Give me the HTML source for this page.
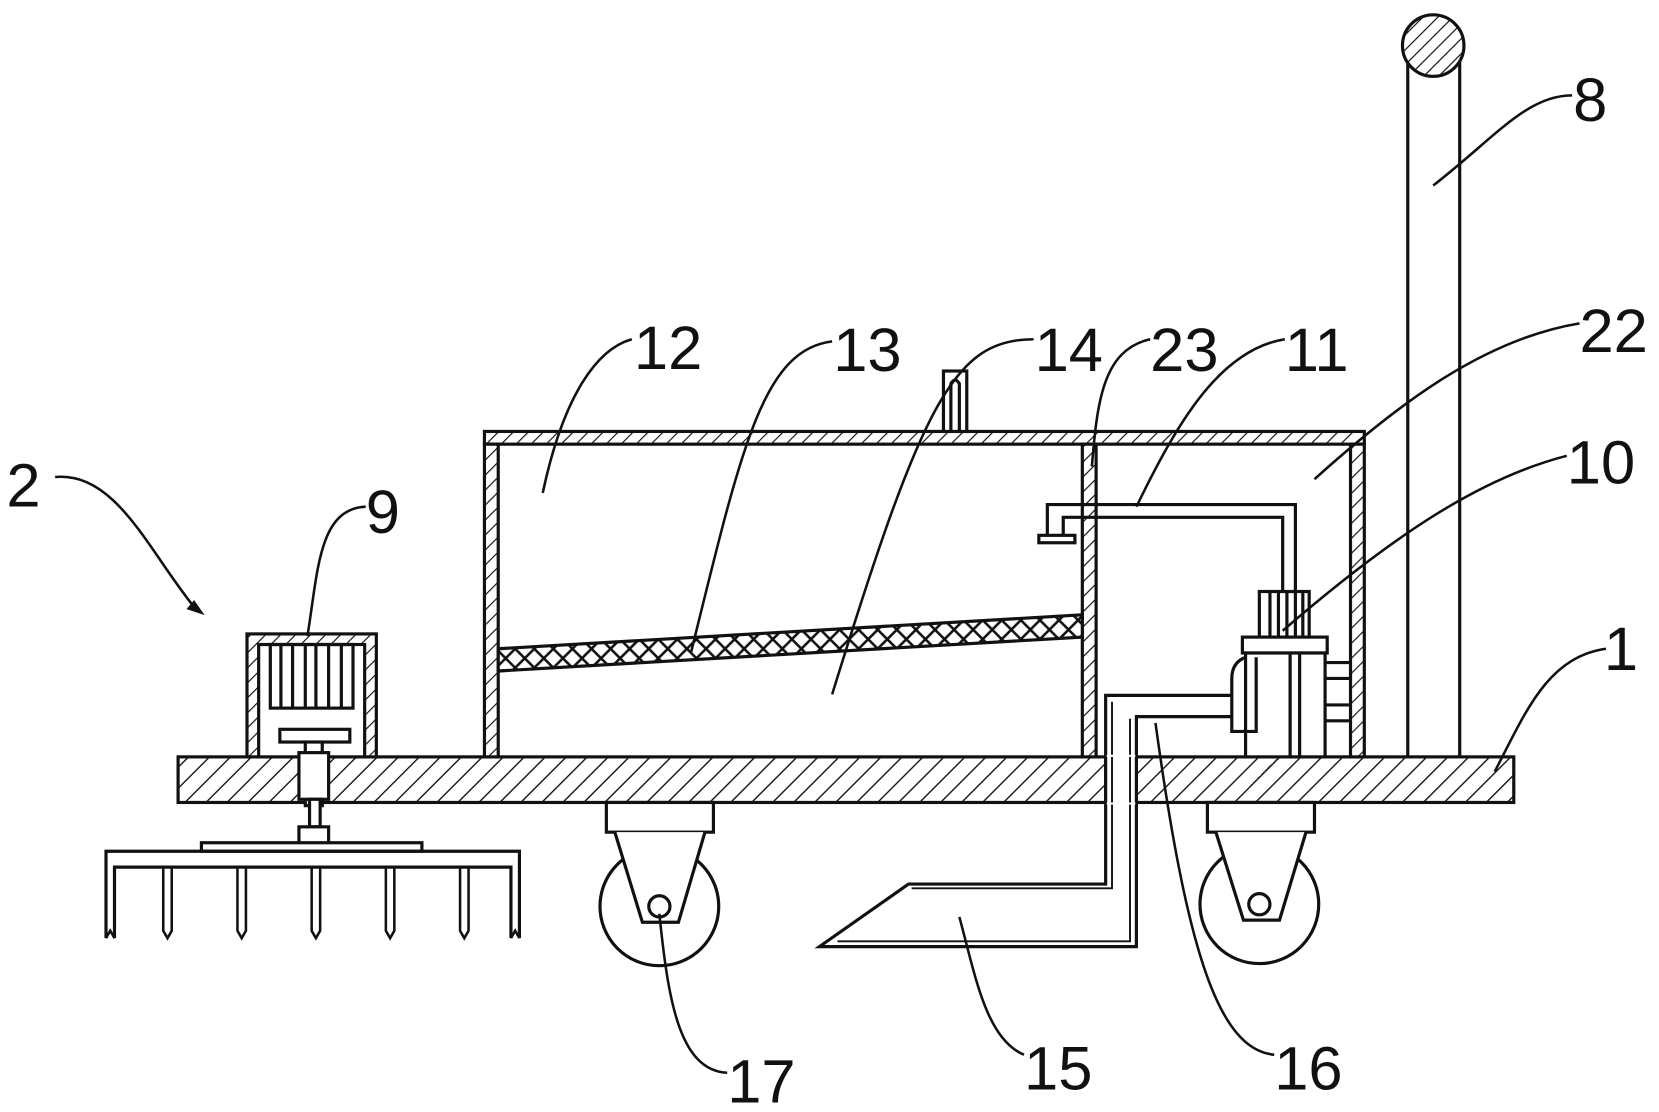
<!DOCTYPE html>
<html><head><meta charset="utf-8"><style>html,body{margin:0;padding:0;background:#fff}svg{display:block}</style></head>
<body>
<svg width="1659" height="1112" viewBox="0 0 1565 1049" preserveAspectRatio="none" xmlns="http://www.w3.org/2000/svg">
<defs>
<pattern id="h" patternUnits="userSpaceOnUse" width="14" height="14" patternTransform="rotate(45)">
<rect width="14" height="14" fill="#fff"/><line x1="0" y1="0" x2="0" y2="14" stroke="#111" stroke-width="2.6"/></pattern>
<pattern id="hs" patternUnits="userSpaceOnUse" width="10" height="10" patternTransform="rotate(45)">
<rect width="10" height="10" fill="#fff"/><line x1="0" y1="0" x2="0" y2="10" stroke="#111" stroke-width="2.2"/></pattern>
<pattern id="x" patternUnits="userSpaceOnUse" width="18" height="18">
<rect width="18" height="18" fill="#fff"/><path d="M0 0L18 18M18 0L0 18" stroke="#111" stroke-width="2.4"/></pattern>
</defs>
<g stroke="#111" stroke-width="3" fill="none">
<rect x="168" y="714" width="1260" height="43" fill="url(#h)"/>
<rect x="457" y="407" width="830" height="12" fill="url(#hs)"/>
<rect x="457" y="419" width="13" height="295" fill="url(#hs)"/>
<rect x="1274" y="419" width="13" height="295" fill="url(#hs)"/>
<rect x="1021" y="419" width="13" height="295" fill="url(#hs)"/>
<rect x="890" y="350" width="22" height="57" fill="#fff"/>
<path d="M897 407V362Q901 355 905 362V407"/>
<polygon points="470,612 1021,580 1021,601 470,633" fill="url(#x)"/>
<line x1="1328" y1="60" x2="1328" y2="714"/>
<line x1="1377" y1="55" x2="1377" y2="714"/>
<circle cx="1352" cy="43" r="29" fill="url(#hs)"/>
<path d="M988 505V476H1222V558"/>
<path d="M1003 505V488H1210V558"/>
<rect x="980" y="505" width="34" height="7" fill="#fff"/>
<rect x="1188" y="558" width="47" height="43" fill="#fff"/>
<path d="M1198 558V601M1206 558V601M1214 558V601M1222 558V601M1229 558V601"/>
<rect x="1172" y="601" width="80" height="15" fill="#fff"/>
<rect x="1175" y="616" width="75" height="98" fill="#fff"/>
<path d="M1217 616V714M1226 616V714"/>
<path d="M1250 625H1273M1250 640H1273M1250 665H1273M1250 680H1273"/>
<path d="M1175 620Q1162 625 1162 640V690H1185V620"/>
<path d="M1162 656H1043V834H857L773 893H1072V676H1162"/>
<path d="M1049 662V838H860M1066 678V888H790" stroke-width="1.8"/>
<rect x="1044" y="712" width="27" height="47" fill="#fff" stroke="none"/>
<path d="M1043 714V757M1072 714V757"/>
<path d="M1049 714V757M1066 714V757" stroke-width="1.8"/>
<rect x="572" y="757" width="101" height="28" fill="#fff"/>
<circle cx="622" cy="855" r="56"/>
<path d="M580 785L606 870H640L665 785" fill="#fff"/>
<circle cx="622" cy="855" r="10"/>
<rect x="1139" y="757" width="101" height="28" fill="#fff"/>
<circle cx="1188" cy="853" r="56"/>
<path d="M1147 785L1173 868H1207L1232 785" fill="#fff"/>
<circle cx="1188" cy="853" r="10"/>
<rect x="233" y="598" width="122" height="116" fill="url(#hs)"/>
<rect x="244" y="608" width="100" height="106" fill="#fff"/>
<rect x="255" y="608" width="78" height="60"/>
<path d="M265 608V668M276 608V668M288 608V668M298 608V668M310 608V668M322 608V668"/>
<rect x="264" y="688" width="66" height="12" fill="#fff"/>
<rect x="288" y="700" width="16" height="60" fill="#fff"/>
<rect x="282" y="710" width="28" height="44" fill="#fff"/>
<rect x="292" y="754" width="10" height="26" fill="#fff"/>
<rect x="282" y="780" width="28" height="16" fill="#fff"/>
<rect x="190" y="795" width="208" height="8" fill="#fff"/>
<path d="M100 885V803H490V885"/>
<path d="M108 885V818H482V885"/>
<g stroke-width="2.4">
<path d="M100 885L104 878L108 885"/>
<path d="M482 885L486 878L490 885"/>
<path d="M154 818V878L158 885L162 878V818"/>
<path d="M224 818V878L228 885L232 878V818"/>
<path d="M294 818V878L298 885L302 878V818"/>
<path d="M364 818V878L368 885L372 878V818"/>
<path d="M434 818V878L438 885L442 878V818"/>
</g>
<g stroke-width="2.4">
<path d="M52 450C110 445 140 520 185 575"/>
<path d="M183 568L190 578L178 574Z" fill="#111"/>
<path d="M345 478C300 480 300 540 290 600"/>
<path d="M596 320C560 330 530 380 512 465"/>
<path d="M785 322C720 330 700 420 652 615"/>
<path d="M975 320C900 320 870 380 785 655"/>
<path d="M1085 320C1040 330 1035 380 1030 440"/>
<path d="M1212 320C1150 330 1110 400 1072 478"/>
<path d="M1490 305C1400 320 1320 380 1240 452"/>
<path d="M1478 430C1400 450 1320 500 1210 595"/>
<path d="M1483 90C1440 90 1410 130 1352 175"/>
<path d="M1515 612C1460 620 1440 670 1410 728"/>
<path d="M686 1012C640 1010 630 940 622 862"/>
<path d="M966 995C930 980 920 920 905 865"/>
<path d="M1202 995C1150 990 1120 900 1090 682"/>
</g>
</g>
<g font-family="Liberation Sans, sans-serif" font-size="58" fill="#111">
<text x="6" y="478">2</text>
<text x="345" y="503">9</text>
<text x="598" y="348">12</text>
<text x="786" y="350">13</text>
<text x="976" y="350">14</text>
<text x="1085" y="350">23</text>
<text x="1212" y="350">11</text>
<text x="1490" y="332">22</text>
<text x="1478" y="456">10</text>
<text x="1484" y="114">8</text>
<text x="1513" y="632">1</text>
<text x="686" y="1040">17</text>
<text x="966" y="1028">15</text>
<text x="1202" y="1028">16</text>
</g>
</svg>
</body></html>
